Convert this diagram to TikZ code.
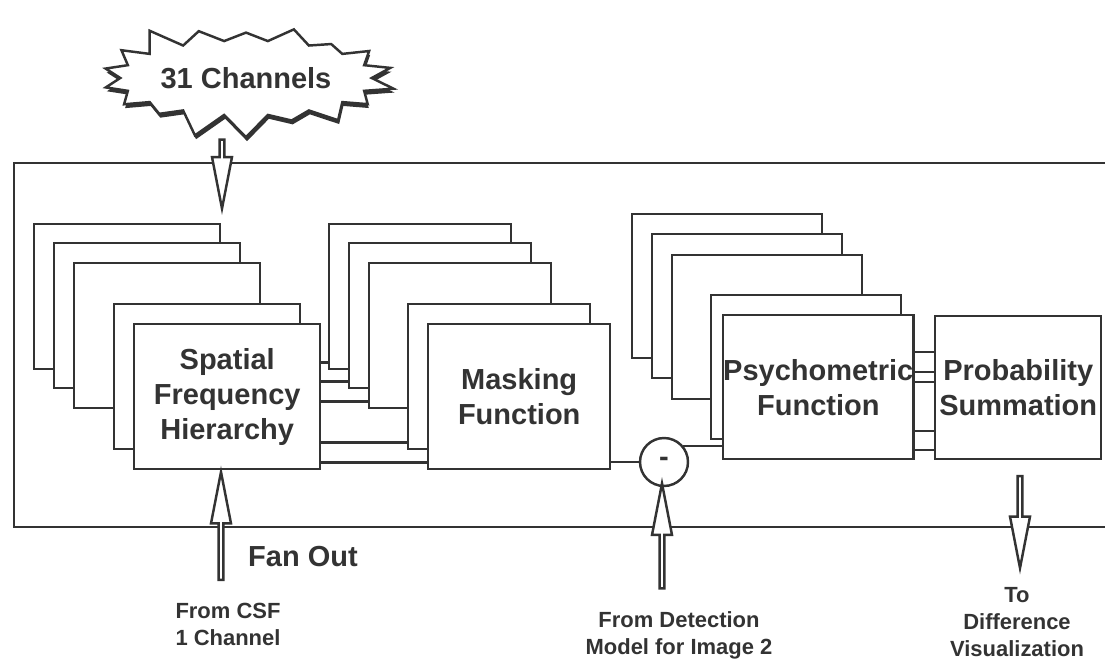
\documentclass[tikz,border=0pt]{standalone}
\usepackage{fontspec}
\setmainfont{Liberation Sans}
\usetikzlibrary{calc,shapes.symbols,shapes.arrows,shadows}

\tikzset{
  ink/.style={draw=black!80, line width=1.4pt},
  stackbox/.style={ink, fill=white, inner sep=0pt, anchor=north west,
    text=black!80, align=center, font=\fontsize{16.5}{20}\selectfont\bfseries},
  hollowarrow/.style={single arrow, ink, fill=white, inner sep=0pt,
    minimum width=0.4cm, single arrow head extend=0.08cm,
    single arrow tip angle=22, single arrow head indent=0pt},
  bigtext/.style={text=black!80, font=\fontsize{16.5}{20}\selectfont\bfseries},
  smalltext/.style={text=black!80, align=center, font=\fontsize{12.5}{15.3}\selectfont\bfseries},
}

\begin{document}
\begin{tikzpicture}[x=0.02cm, y=-0.02cm]
    \useasboundingbox (0,0) rectangle (1105,659);

    % Outer frame, open on the right
    \coordinate (FT) at (1105,163);
    \coordinate (FB) at (1105,527);
    \draw[draw=black!80, line width=1.1pt] (FT) -| (14,527) -- (FB);

    % Spatial frequency hierarchy stack
    \foreach \i/\x/\y in {1/33/223, 2/53/242, 3/73/262, 4/113/303}
        \node[stackbox, minimum width=3.72cm, minimum height=2.9cm] (sfh\i) at (\x,\y) {};
    \node[stackbox, minimum width=3.72cm, minimum height=2.9cm] (sfh5) at (133,323) {Spatial\\Frequency\\Hierarchy};

    % Masking function stack
    \foreach \i/\x/\y in {1/328/223, 2/348/242, 3/368/262, 4/407/303}
        \node[stackbox, minimum width=3.64cm, minimum height=2.9cm] (mask\i) at (\x,\y) {};
    \node[stackbox, minimum width=3.64cm, minimum height=2.9cm] (mask5) at (427,323) {Masking\\Function};

    % Fan out lines
    \foreach \i in {1,...,5}
        \draw[ink] ($(mask\i.south west)+(0,-8)$) coordinate (m\i) -- (m\i -| sfh5.east);

    % Psychometric function stack
    \foreach \i/\x/\y in {1/631/213, 2/651/233, 3/671/254, 4/710/294}
        \node[stackbox, minimum width=3.8cm, minimum height=2.88cm] (psych\i) at (\x,\y) {};
    \node[stackbox, minimum width=3.8cm, minimum height=2.88cm] (psych5) at (722,314) {Psychometric\\Function};

    % Probability summation
    \node[stackbox, minimum width=3.32cm, minimum height=2.86cm] (prob) at (934,315) {Probability\\Summation};
    \foreach \dy in {38,58,68,117,136}
        \draw[ink] ($(psych5.north east)+(0,\dy)$) coordinate (p) -- (p -| prob.west);

    % Difference node
    \node[circle, ink, fill=white, minimum size=0.96cm, inner sep=0pt, bigtext] (diff) at (664,462) {-};
    \draw[ink] (mask5.east |- diff.west) -- (diff.west);
    \draw[ink] (diff.40) -- (diff.40 -| psych5.west);

    % Channels burst and its arrow
    \node[hollowarrow, rotate=-90, minimum height=1.38cm] (chanarrow) at (222,168) {};
    \node[starburst, starburst points=18, starburst point height=0.5cm, random starburst=3,
          ink, fill=white, minimum width=5.44cm, minimum height=2.5cm, inner sep=2pt, bigtext,
          drop shadow={shadow xshift=0.6pt, shadow yshift=-2.2pt, fill=black!80, opacity=1}]
          (chan) at (246,78) {31 Channels};

    % Input and output arrows
    \node[hollowarrow, rotate=90, minimum height=2.16cm] (csfarrow) at (221,532) {};
    \node[bigtext, anchor=west] (fan) at (242,557) {Fan Out};
    \node[smalltext, align=left] (csf) at (228,624) {From CSF\\1 Channel};

    \node[hollowarrow, rotate=90, minimum height=2.1cm] (imgarrow) at (662,542) {};
    \node[smalltext] (img) at (679,635) {From Detection\\Model for Image 2};

    \node[hollowarrow, rotate=-90, minimum height=1.84cm] (visarrow) at (1020,516) {};
    \node[smalltext] (vis) at (1017,622) {To\\Difference\\Visualization};
\end{tikzpicture}
\end{document}
